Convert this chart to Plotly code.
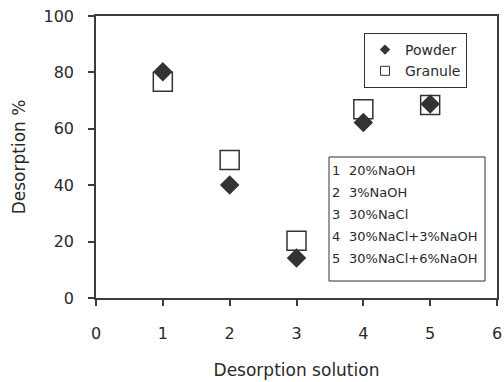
import plotly.graph_objects as go

solutions = [1, 2, 3, 4, 5]
powder = [80.2, 40.1, 14.2, 62.2, 68.8]
granule = [76.7, 48.9, 20.3, 66.9, 68.4]
solution_labels = ["20%NaOH", "3%NaOH", "30%NaCl", "30%NaCl+3%NaOH", "30%NaCl+6%NaOH"]
x_ticks = [0, 1, 2, 3, 4, 5, 6]
y_ticks = [0, 20, 40, 60, 80, 100]

DARK = "#333333"
AX = "#3c3c3c"
TXT = "#2a2a2a"
FONT = "DejaVu Sans"

L, R, T, B = 96, 7, 16, 84
W, H = 504, 382
PW, PH = W - L - R, H - T - B


def px(xp):
    return (xp - L) / PW


def py(yp):
    return (H - B - yp) / PH


fig = go.Figure()
fig.add_trace(go.Scatter(
    x=solutions, y=granule, mode="markers", name="Granule", showlegend=False,
    marker=dict(symbol="square", size=19, color="white", line=dict(color=DARK, width=1.5)),
))
fig.add_trace(go.Scatter(
    x=solutions, y=powder, mode="markers", name="Powder", showlegend=False,
    marker=dict(symbol="diamond", size=15, color=DARK, line=dict(color=DARK, width=0)),
))
# legend-only entries with small symbols
fig.add_trace(go.Scatter(
    x=[None], y=[None], mode="markers", name="Powder",
    marker=dict(symbol="diamond", size=8, color=DARK),
))
fig.add_trace(go.Scatter(
    x=[None], y=[None], mode="markers", name="Granule",
    marker=dict(symbol="square", size=9, color="white", line=dict(color=DARK, width=1)),
))

# key box for the desorption solutions
fig.add_shape(type="rect", xref="paper", yref="paper",
              x0=px(329), x1=px(485), y0=py(281), y1=py(157),
              line=dict(color=DARK, width=1), fillcolor="white", layer="above")
for i, s in enumerate(solution_labels):
    yy = py(170 + i * 22)
    fig.add_annotation(xref="paper", yref="paper", x=px(330), y=yy, xanchor="left",
                       yanchor="middle", showarrow=False, text=str(solutions[i]),
                       font=dict(family=FONT, size=13, color=TXT))
    fig.add_annotation(xref="paper", yref="paper", x=px(347), y=yy, xanchor="left",
                       yanchor="middle", showarrow=False, text=s,
                       font=dict(family=FONT, size=13, color=TXT))

fig.update_layout(
    width=W, height=H,
    margin=dict(l=L, r=R, t=T, b=B),
    paper_bgcolor="white", plot_bgcolor="white",
    font=dict(family=FONT, size=16, color=TXT),
    legend=dict(
        x=px(364), y=py(33), xanchor="left", yanchor="top",
        bordercolor=DARK, borderwidth=1, bgcolor="white",
        font=dict(family=FONT, size=14, color=TXT),
        tracegroupgap=0, entrywidth=88, entrywidthmode="pixels",
    ),
    showlegend=True,
)
fig.update_xaxes(
    range=[0, 6], tickvals=x_ticks, showgrid=False, zeroline=False,
    showline=True, linecolor=AX, linewidth=1.5, mirror=True,
    ticks="outside", ticklen=6, tickcolor=AX, tickwidth=1.5,
    tickfont=dict(size=16), ticklabelstandoff=14, automargin=False,
    title=dict(text="Desorption solution", standoff=22, font=dict(size=17)),
)
fig.update_yaxes(
    range=[0, 100], tickvals=y_ticks, showgrid=False, zeroline=False,
    showline=True, linecolor=AX, linewidth=1.5, mirror=True,
    ticks="outside", ticklen=6, tickcolor=AX, tickwidth=1.5,
    tickfont=dict(size=16), ticklabelstandoff=11, automargin=False,
    title=dict(text="Desorption %", standoff=14, font=dict(size=17)),
)

fig.write_html("out.html", config={"displayModeBar": False},
               post_script="document.body.style.margin='0';document.body.style.overflow='hidden';")
